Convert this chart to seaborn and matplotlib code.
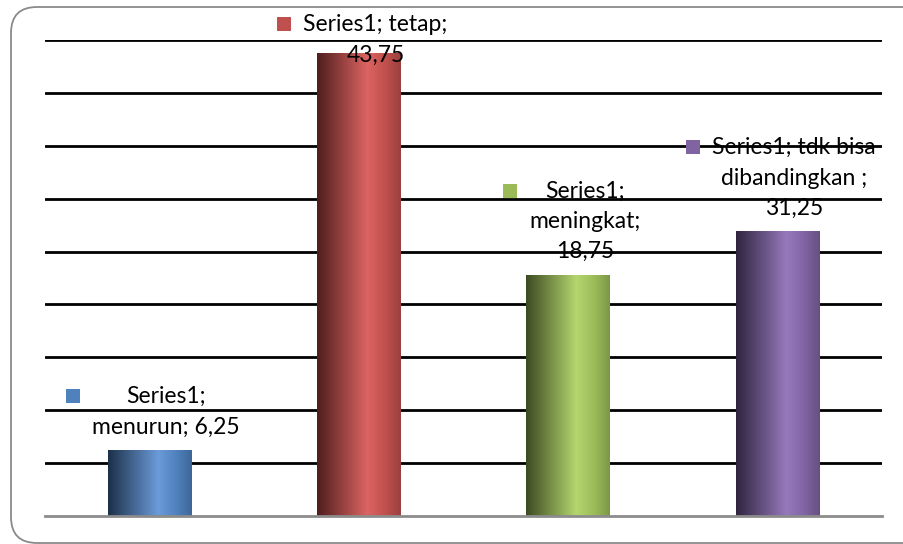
import numpy as np
import pandas as pd
import matplotlib
matplotlib.use("Agg")
import matplotlib.pyplot as plt
import seaborn as sns
from matplotlib.colors import LinearSegmentedColormap
from matplotlib.patches import Rectangle, FancyBboxPatch
from matplotlib.transforms import IdentityTransform

# Data
categories = ["menurun", "tetap", "meningkat", "tdk bisa dibandingkan "]
bar_heights = [6.25, 43.75, 22.8, 26.9]
label_texts = [
    "Series1;\nmenurun; 6,25",
    "Series1; tetap;\n43,75",
    "Series1;\nmeningkat;\n18,75",
    "Series1; tdk bisa\ndibandingkan ;\n31,25",
]
base_colors = ["#4f81bd", "#c0504d", "#9bbb59", "#8064a2"]
dark_colors = ["#1c3048", "#4e1e1d", "#3d4a22", "#30243f"]
light_colors = ["#6b9bd9", "#dc6462", "#b4d66e", "#9679bb"]
edge_colors = ["#3e6799", "#9a403e", "#7c9647", "#665082"]

df = pd.DataFrame({"cat": categories, "val": bar_heights})

sns.set_theme(style="white")
plt.rcParams["font.family"] = ["Lato", "DejaVu Sans"]

W, H = 904, 544
fig = plt.figure(figsize=(W / 100, H / 100), dpi=100)
ax = fig.add_axes([45 / W, (H - 516) / H, (882 - 45) / W, (516 - 40) / H])

sns.barplot(data=df, x="cat", y="val", order=categories, width=0.4,
            color="white", ax=ax, zorder=3)

ax.set_ylim(0, 45)
ax.set_xlim(-0.5, 3.5)
ax.set_yticks(np.arange(5, 50, 5))
ax.set_yticklabels([])
ax.set_xticks([])
ax.set_xlabel("")
ax.set_ylabel("")
ax.tick_params(left=False, bottom=False)
ax.set_axisbelow(True)
ax.yaxis.grid(True, color="black", linewidth=2.0)
for s in ["top", "left", "right"]:
    ax.spines[s].set_visible(False)
ax.spines["bottom"].set_color("#8c8c8c")
ax.spines["bottom"].set_linewidth(2.0)
ax.spines["bottom"].set_zorder(4)
ax.patch.set_alpha(0)

# gradient fill on each bar (dark left, light highlight, base colour right)
grad = np.linspace(0, 1, 256).reshape(1, -1)
for i, bar in enumerate(ax.patches):
    cmap = LinearSegmentedColormap.from_list(
        f"g{i}", [(0, dark_colors[i]), (0.6, light_colors[i]),
                  (0.82, base_colors[i]), (1, edge_colors[i])])
    x0, y0 = bar.get_x(), bar.get_y()
    w, h = bar.get_width(), bar.get_height()
    im = ax.imshow(grad, cmap=cmap, aspect="auto",
                   extent=[x0, x0 + w, y0, y0 + h], zorder=3)
    im.set_clip_path(bar)
    bar.set_facecolor("none")
    bar.set_edgecolor("none")
ax.set_xlim(-0.5, 3.5)
ax.set_ylim(0, 45)

# data labels with legend keys
texts = []
for i, (val, lab) in enumerate(zip(bar_heights, label_texts)):
    t = ax.annotate(lab, xy=(i, val), xytext=(12, 9), textcoords="offset points",
                    ha="center", va="bottom", multialignment="center",
                    fontsize=16.5, color="black", linespacing=1.55,
                    annotation_clip=False, zorder=6)
    texts.append(t)

fig.canvas.draw()
renderer = fig.canvas.get_renderer()
top_limit = H - 14
for t in texts:
    bb = t.get_window_extent(renderer)
    if bb.y1 > top_limit:
        dx, dy = t.xyann
        t.xyann = (dx, dy - (bb.y1 - top_limit) * 72 / fig.dpi)
fig.canvas.draw()

for i, t in enumerate(texts):
    bb = t.get_window_extent(renderer)
    sq = 14
    rect = Rectangle((bb.x0 - 12 - sq, bb.y1 - 3 - sq), sq, sq,
                     facecolor=base_colors[i], edgecolor="none",
                     transform=IdentityTransform(), zorder=6)
    fig.add_artist(rect)

# rounded chart-area border (right side runs off the image)
frame = FancyBboxPatch((11, 1), 960, 536,
                       boxstyle="round,pad=0,rounding_size=26",
                       facecolor="none", edgecolor="#8a8a8a", linewidth=1.3,
                       transform=IdentityTransform(), zorder=10)
fig.add_artist(frame)

fig.savefig("out.png", dpi=100)
